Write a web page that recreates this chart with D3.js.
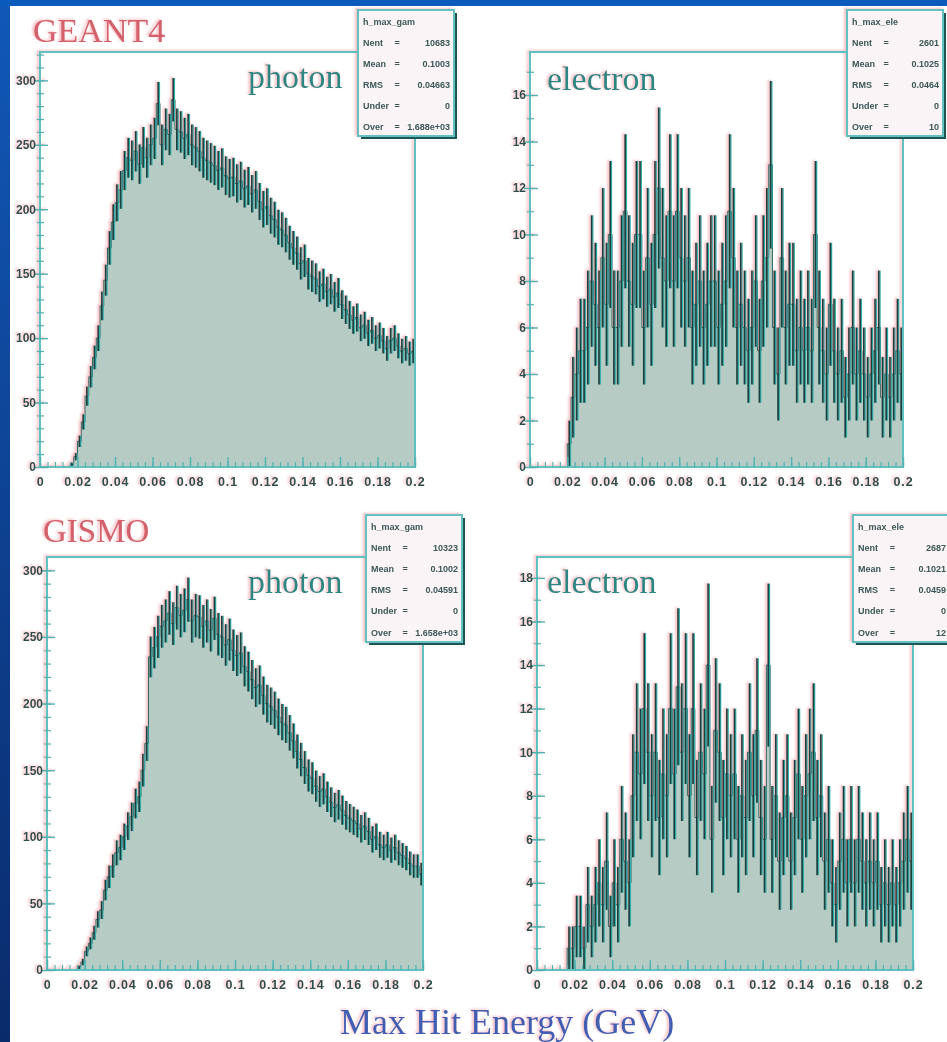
<!DOCTYPE html>
<html>
<head>
<meta charset="utf-8">
<script src="https://cdn.jsdelivr.net/npm/d3@7"></script>
<style>
body { margin: 0; background: #fff; }
</style>
</head>
<body>
<div id="chart"></div>
<script>
const svgWidth = 947
const svgHeight = 1042

// histogram binning: 100 bins from 0 to 0.2 GeV
const binWidth = 0.002
const xTicks = [0, 0.02, 0.04, 0.06, 0.08, 0.1, 0.12, 0.14, 0.16, 0.18, 0.2]
const xTickLabels = ["0", "0.02", "0.04", "0.06", "0.08", "0.1", "0.12", "0.14", "0.16", "0.18", "0.2"]
const photonTicksG4 = [0, 50, 100, 150, 200, 250, 300]
const electronTicksG4 = [0, 2, 4, 6, 8, 10, 12, 14, 16]
const photonTicksGismo = [0, 50, 100, 150, 200, 250, 300]
const electronTicksGismo = [0, 2, 4, 6, 8, 10, 12, 14, 16, 18]

const g4Photon = [
  0, 0, 0, 0, 0, 0, 0, 0, 2, 8,
  20, 35, 55, 70, 85, 100, 125, 145, 170, 190,
  205, 215, 230, 240, 238, 245, 235, 248, 240, 250,
  255, 282, 250, 262, 258, 285, 262, 260, 255, 258,
  250, 248, 245, 240, 238, 236, 234, 230, 232, 226,
  224, 225, 220, 222, 216, 218, 212, 215, 206, 200,
  202, 195, 192, 186, 184, 180, 174, 170, 166, 158,
  160, 150, 148, 146, 140, 142, 136, 138, 132, 135,
  126, 122, 118, 114, 116, 108, 110, 104, 106, 100,
  102, 98, 92, 98, 100, 94, 90, 92, 88, 90
]
const g4Electron = [
  0, 0, 0, 0, 0, 0, 0, 0, 0, 0,
  1, 3, 4, 5, 5, 6, 8, 7, 6, 9,
  7, 10, 6, 6, 8, 11, 8, 7, 10, 10,
  6, 9, 7, 10, 12, 9, 8, 11, 8, 11,
  9, 8, 9, 6, 7, 8, 6, 7, 8, 8,
  6, 7, 8, 11, 9, 6, 7, 6, 5, 6,
  8, 5, 8, 9, 13, 6, 4, 9, 6, 7,
  7, 5, 6, 5, 6, 5, 10, 6, 5, 4,
  7, 5, 4, 5, 3, 4, 6, 4, 5, 4,
  3, 4, 5, 6, 3, 4, 3, 4, 5, 4
]
const gismoPhoton = [
  0, 0, 0, 0, 0, 0, 0, 0, 2, 6,
  14, 20, 28, 38, 45, 60, 70, 78, 88, 92,
  100, 108, 115, 125, 130, 150, 170, 235, 242, 250,
  258, 262, 268, 260, 272, 266, 270, 278, 262, 266,
  265, 258, 262, 255, 264, 252, 250, 244, 248, 240,
  236, 238, 228, 224, 218, 212, 214, 206, 200, 198,
  195, 190, 186, 184, 178, 172, 164, 158, 152, 146,
  144, 138, 134, 136, 130, 126, 122, 124, 120, 116,
  114, 112, 110, 106, 108, 104, 98, 100, 94, 92,
  94, 90, 92, 88, 86, 84, 80, 78, 78, 72
]
const gismoElectron = [
  0, 0, 0, 0, 0, 0, 0, 0, 1, 1,
  2, 2, 1, 3, 2, 3, 4, 3, 5, 2,
  4, 3, 6, 5, 4, 8, 10, 9, 12, 10,
  8, 10, 7, 9, 8, 12, 9, 13, 10, 12,
  8, 12, 7, 10, 9, 14, 6, 11, 10, 7,
  9, 8, 9, 6, 8, 7, 10, 8, 11, 7,
  6, 14, 6, 8, 5, 7, 8, 5, 7, 9,
  6, 8, 9, 10, 7, 8, 5, 6, 4, 3,
  5, 6, 4, 6, 4, 6, 5, 4, 5, 4,
  5, 3, 4, 3, 4, 3, 4, 5, 6, 5
]

const statNames = ["Nent", "Mean", "RMS", "Under", "Over"]
const g4PhotonStats = ["10683", "0.1003", "0.04663", "0", "1.688e+03"]
const g4ElectronStats = ["2601", "0.1025", "0.0464", "0", "10"]
const gismoPhotonStats = ["10323", "0.1002", "0.04591", "0", "1.658e+03"]
const gismoElectronStats = ["2687", "0.1021", "0.0459", "0", "12"]

let panels = [
  {counts: g4Photon, yTicks: photonTicksG4, yMinor: 10, yMax: 322,
   left: 40, top: 52, right: 415, bottom: 467,
   label: "photon", labelX: 248, labelY: 88,
   hist: "h_max_gam", stats: g4PhotonStats, box: [358, 10, 96, 126]},
  {counts: g4Electron, yTicks: electronTicksG4, yMinor: 1, yMax: 17.85,
   left: 530, top: 52, right: 903, bottom: 467,
   label: "electron", labelX: 547, labelY: 90,
   hist: "h_max_ele", stats: g4ElectronStats, box: [847, 10, 96, 126]},
  {counts: gismoPhoton, yTicks: photonTicksGismo, yMinor: 10, yMax: 310,
   left: 47, top: 557, right: 423, bottom: 970,
   label: "photon", labelX: 248, labelY: 593,
   hist: "h_max_gam", stats: gismoPhotonStats, box: [366, 515, 96, 127]},
  {counts: gismoElectron, yTicks: electronTicksGismo, yMinor: 1, yMax: 18.96,
   left: 537, top: 557, right: 913, bottom: 970,
   label: "electron", labelX: 547, labelY: 593,
   hist: "h_max_ele", stats: gismoElectronStats, box: [853, 515, 97, 127]}
]

let svg = d3
  .select("#chart")
  .append("svg")
  .attr("width", svgWidth)
  .attr("height", svgHeight)

let defs = svg.append("defs")
let grad = defs.append("linearGradient")
  .attr("id", "sideBlue")
  .attr("x1", 0).attr("y1", 0).attr("x2", 0).attr("y2", 1)
grad.append("stop").attr("offset", "0%").attr("stop-color", "#1158b8")
grad.append("stop").attr("offset", "100%").attr("stop-color", "#0a2b6b")

// soft blur + pink offset fringe, like the scanned slide
let filter = defs.append("filter")
  .attr("id", "scan")
  .attr("filterUnits", "userSpaceOnUse")
  .attr("x", 0).attr("y", 0)
  .attr("width", svgWidth).attr("height", svgHeight)
filter.append("feOffset").attr("in", "SourceAlpha").attr("dx", -1.6).attr("dy", -0.6).attr("result", "off")
filter.append("feFlood").attr("flood-color", "#ef8d95").attr("flood-opacity", 0.55).attr("result", "pinkc")
filter.append("feComposite").attr("in", "pinkc").attr("in2", "off").attr("operator", "in").attr("result", "pink")
filter.append("feGaussianBlur").attr("in", "pink").attr("stdDeviation", 0.9).attr("result", "pinkb")
filter.append("feGaussianBlur").attr("in", "SourceGraphic").attr("stdDeviation", 0.7).attr("result", "soft")
let merge = filter.append("feMerge")
merge.append("feMergeNode").attr("in", "pinkb")
merge.append("feMergeNode").attr("in", "soft")

svg.append("rect").attr("width", svgWidth).attr("height", svgHeight).attr("fill", "#0b5bbd")
svg.append("rect").attr("x", 10).attr("y", 6).attr("width", svgWidth - 10).attr("height", svgHeight - 6).attr("fill", "#ffffff")

let chartGroup = svg.append("g").attr("filter", "url(#scan)")

function stepPoints(counts, x, y) {
  let pts = []
  counts.forEach((v, i) => {
    pts.push([x(i * binWidth), y(v)])
    pts.push([x((i + 1) * binWidth), y(v)])
  })
  return pts
}

function statText(g, tx, ty, anchor, str) {
  g.append("text")
    .attr("x", tx).attr("y", ty)
    .attr("text-anchor", anchor)
    .style("font-family", "'Liberation Sans', Arial, sans-serif")
    .style("font-size", "9px")
    .style("font-weight", "bold")
    .attr("fill", "#3a5856")
    .text(str)
}

function drawPanel(p) {
  let g = chartGroup.append("g")
  let x = d3.scaleLinear().domain([0, 0.2]).range([p.left, p.right])
  let y = d3.scaleLinear().domain([0, p.yMax]).range([p.bottom, p.top])
  let pts = stepPoints(p.counts, x, y)

  g.append("path")
    .attr("d", d3.area().x(d => d[0]).y0(p.bottom).y1(d => d[1])(pts))
    .attr("fill", "#b6cbc3")

  g.append("path")
    .attr("d", d3.line()(pts))
    .attr("fill", "none")
    .attr("stroke", "#2a6a67")
    .attr("stroke-width", 1)

  let bins = p.counts.map((v, i) => ({v: v, c: (i + 0.5) * binWidth})).filter(d => d.v > 0)
  g.selectAll(".errTeal")
    .data(bins)
    .enter()
    .append("line")
    .attr("x1", d => x(d.c) + 1.3)
    .attr("x2", d => x(d.c) + 1.3)
    .attr("y1", d => y(d.v - Math.sqrt(d.v)))
    .attr("y2", d => y(d.v + Math.sqrt(d.v)))
    .attr("stroke", "#2fb0ad")
    .attr("stroke-width", 1.3)
  g.selectAll(".errDark")
    .data(bins)
    .enter()
    .append("line")
    .attr("x1", d => x(d.c))
    .attr("x2", d => x(d.c))
    .attr("y1", d => y(d.v - Math.sqrt(d.v)))
    .attr("y2", d => y(d.v + Math.sqrt(d.v)))
    .attr("stroke", "#1b403e")
    .attr("stroke-width", 1.7)

  // frame
  g.append("rect")
    .attr("x", p.left).attr("y", p.top)
    .attr("width", p.right - p.left).attr("height", p.bottom - p.top)
    .attr("fill", "none")
    .attr("stroke", "#5fc1c0")
    .attr("stroke-width", 2)

  // x axis, ticks pointing up into the frame
  let minorX = d3.range(0, 0.2001, 0.004)
  let xMinorAxis = g.append("g")
    .attr("transform", `translate(0, ${p.bottom})`)
    .call(d3.axisBottom(x).tickValues(minorX).tickSizeInner(-5).tickSizeOuter(0).tickFormat(""))
  xMinorAxis.select(".domain").remove()
  xMinorAxis.selectAll("line").attr("stroke", "#4fb3b1").attr("stroke-width", 1.2)

  let xAxis = g.append("g")
    .attr("transform", `translate(0, ${p.bottom})`)
    .call(d3.axisBottom(x).tickValues(xTicks).tickSizeInner(-10).tickSizeOuter(0).tickPadding(10)
      .tickFormat((d, i) => xTickLabels[i]))
  xAxis.select(".domain").remove()
  xAxis.selectAll("line").attr("stroke", "#4fb3b1").attr("stroke-width", 1.4)
  xAxis.selectAll("text")
    .style("font-family", "'Liberation Sans', Arial, sans-serif")
    .style("font-size", "12.5px")
    .style("font-weight", "bold")
    .style("letter-spacing", "0.8px")
    .attr("fill", "#25504d")

  // y axis, ticks crossing the frame line
  let minorY = d3.range(0, p.yMax, p.yMinor)
  let yMinorAxis = g.append("g")
    .attr("transform", `translate(${p.left}, 0)`)
    .call(d3.axisLeft(y).tickValues(minorY).tickSizeInner(-4).tickSizeOuter(0).tickFormat(""))
  yMinorAxis.select(".domain").remove()
  yMinorAxis.selectAll("line").attr("x1", -3).attr("stroke", "#4fb3b1").attr("stroke-width", 1.2)

  let yAxis = g.append("g")
    .attr("transform", `translate(${p.left}, 0)`)
    .call(d3.axisLeft(y).tickValues(p.yTicks).tickSizeInner(-8).tickSizeOuter(0).tickPadding(5))
  yAxis.select(".domain").remove()
  yAxis.selectAll("line").attr("x1", -6).attr("stroke", "#4fb3b1").attr("stroke-width", 1.4)
  yAxis.selectAll("text")
    .attr("x", -4)
    .style("font-family", "'Liberation Sans', Arial, sans-serif")
    .style("font-size", "12px")
    .style("font-weight", "bold")
    .attr("fill", "#25504d")

  // particle label
  g.append("text")
    .attr("x", p.labelX)
    .attr("y", p.labelY)
    .style("font-family", "'Liberation Serif', 'Times New Roman', serif")
    .style("font-size", "34px")
    .attr("fill", "#2a8784")
    .text(p.label)

  // stats box
  let b = p.box
  g.append("rect")
    .attr("x", b[0] + 3).attr("y", b[1] + 3)
    .attr("width", b[2]).attr("height", b[3])
    .attr("fill", "#1f5755")
  g.append("rect")
    .attr("x", b[0]).attr("y", b[1])
    .attr("width", b[2]).attr("height", b[3])
    .attr("fill", "#fbf4f6")
    .attr("stroke", "#63c2c1")
    .attr("stroke-width", 2)
  let rowH = b[3] / 6
  let statRows = [[p.hist, "", ""]].concat(statNames.map((n, i) => [n, "=", p.stats[i]]))
  statRows.forEach((r, i) => {
    let ty = b[1] + rowH * i + rowH * 0.7
    statText(g, b[0] + 5, ty, "start", r[0])
    if (r[1]) {
      statText(g, b[0] + b[2] * 0.38, ty, "start", r[1])
      statText(g, b[0] + b[2] - 4, ty, "end", r[2])
    }
  })
}

panels.forEach(drawPanel)

// generator titles and common x title
chartGroup.append("text")
  .attr("x", 33).attr("y", 42)
  .style("font-family", "'Liberation Serif', 'Times New Roman', serif")
  .style("font-size", "34px")
  .attr("fill", "#d3606b")
  .text("GEANT4")
chartGroup.append("text")
  .attr("x", 43).attr("y", 542)
  .style("font-family", "'Liberation Serif', 'Times New Roman', serif")
  .style("font-size", "33px")
  .attr("fill", "#d3606b")
  .text("GISMO")
chartGroup.append("text")
  .attr("x", 340).attr("y", 1034)
  .style("font-family", "'Liberation Serif', 'Times New Roman', serif")
  .style("font-size", "36px")
  .attr("fill", "#3f5fb2")
  .text("Max Hit Energy (GeV)")

// blue slide border on top of everything
svg.append("rect").attr("x", 0).attr("y", 0).attr("width", 10).attr("height", svgHeight).attr("fill", "url(#sideBlue)")
svg.append("rect").attr("x", 0).attr("y", 0).attr("width", svgWidth).attr("height", 6).attr("fill", "#0b5bbd")
</script>
</body>
</html>
